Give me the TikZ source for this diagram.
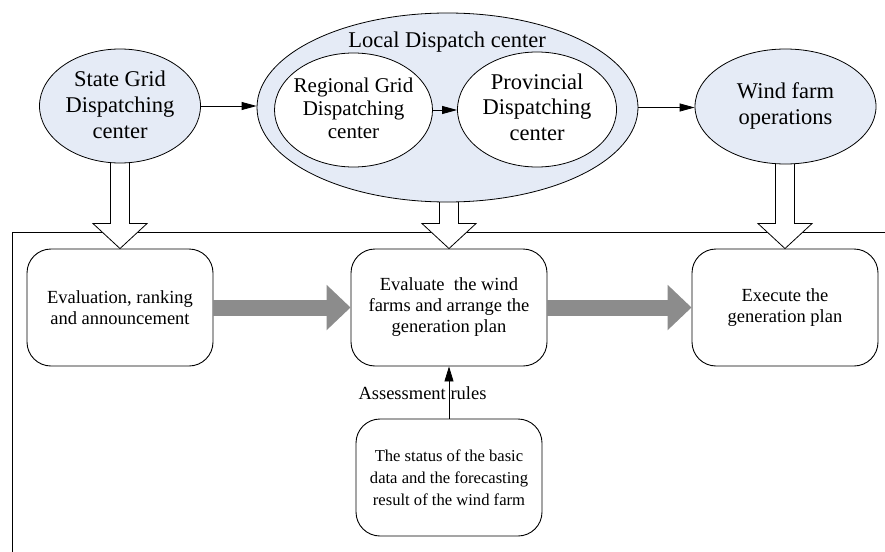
\documentclass[tikz,border=0pt]{standalone}
\usepackage{fontspec}
\setmainfont{Liberation Serif}
\usetikzlibrary{shapes.geometric,arrows.meta,calc,backgrounds}

\definecolor{centerfill}{RGB}{229,235,246}
\definecolor{flowgray}{RGB}{140,140,140}

\tikzset{
  centre/.style={ellipse, draw, line width=0.8pt, fill=centerfill, inner sep=0pt},
  inner centre/.style={ellipse, draw, line width=0.8pt, fill=white, inner sep=0pt},
  bigtext/.style={align=center, font=\fontsize{22.5pt}{26pt}\selectfont, inner sep=0pt},
  stage/.style={draw, line width=0.9pt, rounded corners=24pt, minimum width=186pt,
    minimum height=117pt, align=center, inner sep=0pt,
    font=\fontsize{18.5pt}{21pt}\selectfont},
  link/.style={line width=0.8pt, -{Triangle[length=15pt,width=8pt]}},
  uplink/.style={line width=0.8pt, -{Triangle[length=15pt,width=9pt]}},
  flow/.style={line width=16pt, flowgray, -{Triangle[length=24pt,width=44pt]}},
  hollow/.style={draw, line width=0.8pt, fill=white, line join=miter},
  frameline/.style={line width=0.9pt},
}

% hollow block arrow pointing down: shaft leaves #1, tip touches #2
\newcommand{\hollowdown}[2]{%
  \draw[hollow] let \p1=(#1), \p2=(#2) in
    (\x2-9.5pt,\y1+3pt) -- (\x2-9.5pt,\y2+25pt) -- (\x2-27pt,\y2+25pt) --
    (\x2,\y2) -- (\x2+27pt,\y2+25pt) -- (\x2+9.5pt,\y2+25pt) --
    (\x2+9.5pt,\y1+3pt);
}

\begin{document}
\begin{tikzpicture}[x=1pt, y=-1pt]
\useasboundingbox (0,0) rectangle (885,551);

% dispatching centres
\node[centre, minimum width=381pt, minimum height=189pt] (ld) at (447.5,107.5) {};
\node[inner centre, minimum width=158pt, minimum height=114pt] (rg) at (353.5,110) {};
\node[inner centre, minimum width=159pt, minimum height=115pt] (pv) at (537,109.5) {};
\node[centre, minimum width=161pt, minimum height=114pt] (sg) at (120,106) {};
\node[centre, minimum width=181pt, minimum height=115pt] (wf) at (785.5,106.5) {};

\node[bigtext] (ldt) at (447,42) {Local Dispatch center};
\node[bigtext, font=\fontsize{21pt}{23pt}\selectfont] (rgt) at (353.5,108) {Regional Grid\\Dispatching\\center};
\node[bigtext, font=\fontsize{22.5pt}{25.5pt}\selectfont] (pvt) at (537,107) {Provincial\\Dispatching\\center};
\node[bigtext] (sgt) at (120,104.5) {State Grid\\Dispatching\\center};
\node[bigtext] (wft) at (785.5,106) {Wind farm\\operations};

\draw[link] (sg.east) -- (sg.east -| ld.west);
\draw[link] (rg.east) -- (rg.east -| pv.west);
\draw[link] (ld.east) -- (ld.east -| wf.west);

% process stages
\node[stage] (b1) at (120,307.5) {Evaluation, ranking\\and announcement};
\node[stage, minimum width=196pt] (b2) at (449,307.5) {Evaluate\ \ the wind\\farms and arrange the\\generation plan};
\node[stage] (b3) at (785,307.5) {Execute the\\generation plan};
\node[stage, font=\fontsize{16.6pt}{22pt}\selectfont] (b4) at (449,477.5)
  {The status of the basic\\data and the forecasting\\result of the wind farm};

\draw[flow] (b1) -- (b2);
\draw[flow] (b2) -- (b3);

\draw[uplink] (b4) -- (b2);
\node[font=\fontsize{18.5pt}{21pt}\selectfont, inner sep=0pt] (rules) at (422.5,393) {Assessment rules};

% frame and hollow arrows behind the centres
\begin{scope}[on background layer]
  \coordinate (frameTL) at (12,232);
  \coordinate (frameBL) at (12,555);
  \coordinate (frameTR) at (889,232);
  \draw[frameline] (frameBL) -- (frameTL) -- (frameTR);
  \hollowdown{sg.south}{b1.north}
  \hollowdown{ld.south}{b2.north}
  \hollowdown{wf.south}{b3.north}
\end{scope}
\end{tikzpicture}
\end{document}
